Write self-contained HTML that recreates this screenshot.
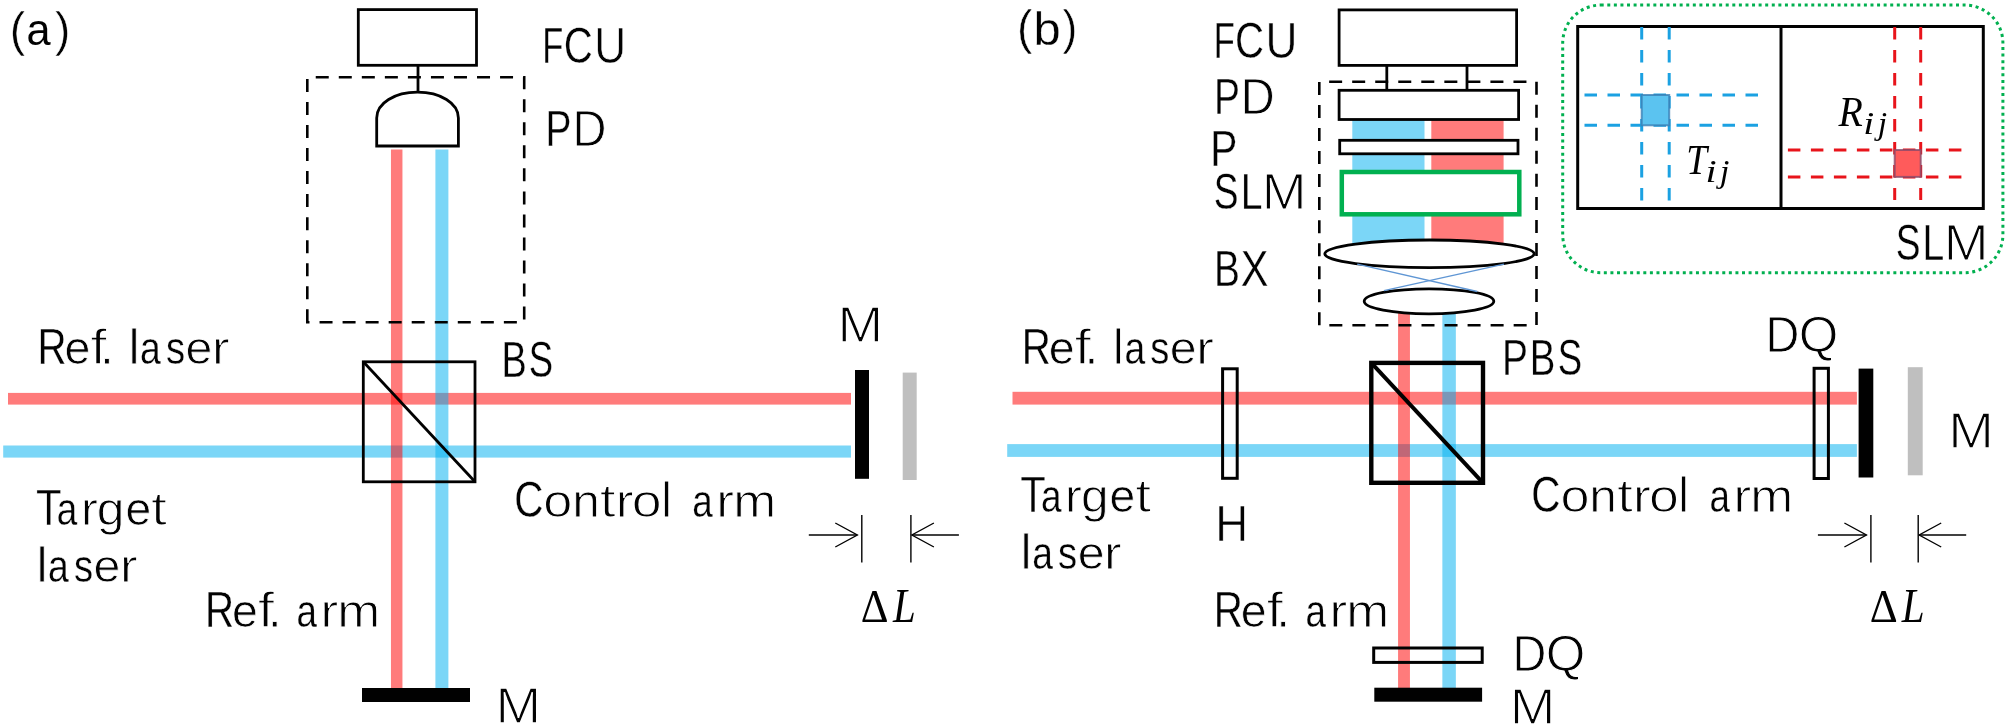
<!DOCTYPE html>
<html><head><meta charset="utf-8"><style>
html,body{margin:0;padding:0;background:#fff;}
svg{display:block;font-family:"Liberation Sans",sans-serif;}
</style></head><body>
<svg width="2008" height="727" viewBox="0 0 2008 727">
<rect width="2008" height="727" fill="#fff"/>
<g opacity="0.999"><text transform="translate(9.8,45.97) scale(0.4646,0.4815)" font-size="100" font-family="Liberation Sans" font-style="normal" stroke="#fff" stroke-width="1.0" >(</text><text transform="translate(26.47,44.87) scale(0.4327,0.4345)" font-size="100" font-family="Liberation Sans" font-style="normal" stroke="#fff" stroke-width="0" >a</text><text transform="translate(54.98,45.97) scale(0.46,0.4815)" font-size="100" font-family="Liberation Sans" font-style="normal" stroke="#fff" stroke-width="1.0" >)</text><rect x="8" y="392.9" width="843" height="11.7" fill="rgba(255,0,0,0.52)"/><rect x="3.2" y="445.5" width="847.8" height="12.1" fill="rgba(0,176,240,0.52)"/><rect x="390.95" y="149.5" width="11.5" height="538.5" fill="rgba(255,0,0,0.52)"/><rect x="435.4" y="149.5" width="13" height="538.5" fill="rgba(0,176,240,0.52)"/><rect x="358.3" y="9.6" width="118.19999999999999" height="55.699999999999996" fill="none" stroke="#000" stroke-width="2.8" /><line x1="418" y1="65.3" x2="418" y2="92.5" stroke="#000" stroke-width="2.8" /><path d="M307.3,322.3 V77.3 H524.2 V322.3 Z" fill="none" stroke="#000" stroke-width="2.6" stroke-dasharray="13 10.04"/><path d="M376.7,146 L376.7,118 C376.7,103 394.8,92.2 417.5,92.2 C440.2,92.2 458.4,103 458.4,118 L458.4,146 Z" fill="#fff" stroke="#000" stroke-width="2.8"/><rect x="363.3" y="361.8" width="111.69999999999999" height="120.0" fill="none" stroke="#000" stroke-width="2.8" /><line x1="363.3" y1="361.8" x2="475" y2="481.8" stroke="#000" stroke-width="2.8" /><rect x="855" y="370" width="14" height="108.8" fill="#000"/><rect x="902.7" y="372.6" width="14" height="107.4" fill="#bfbfbf"/><rect x="362" y="688" width="108" height="14" fill="#000"/><line x1="808.8" y1="535" x2="857.3" y2="535" stroke="#000" stroke-width="1.4" /><polyline points="835.3,523 857.3,535 835.3,547" fill="none" stroke="#000" stroke-width="1.4"/><line x1="861.8" y1="515" x2="861.8" y2="562.6" stroke="#000" stroke-width="1.4" /><line x1="910.9" y1="515" x2="910.9" y2="562.6" stroke="#000" stroke-width="1.4" /><line x1="911.9" y1="535" x2="958.9" y2="535" stroke="#000" stroke-width="1.4" /><polyline points="933.9,523 911.9,535 933.9,547" fill="none" stroke="#000" stroke-width="1.4"/><g font-size="50.0" stroke="#fff" stroke-width="0.9" opacity="0.999"><text transform="translate(542.33,62.50) scale(0.6894,1.0)" stroke-width="0.30">F</text><text transform="translate(563.64,62.50) scale(0.8034,1.0)" stroke-width="0.30">C</text><text transform="translate(594.13,62.50) scale(0.8847,1.0)" stroke-width="0.59">U</text><text transform="translate(545.59,146.40) scale(0.7791,1.0)" stroke-width="0.30">P</text><text transform="translate(572.47,146.40) scale(0.9402,1.0)" stroke-width="0.79">D</text><text transform="translate(37.53,363.60) scale(0.8048,1.0)" stroke-width="0.30">R</text><text transform="translate(64.57,363.60) scale(0.9293,0.915)" stroke-width="0.76">e</text><text transform="translate(90.29,363.60) scale(1.1876,1.0)" stroke-width="1.30">f</text><text transform="translate(100.10,363.60) scale(1.0000,1.0)" stroke-width="0.90">.</text><text transform="translate(128.43,363.60) scale(1.0000,1.0)" stroke-width="0.90">l</text><text transform="translate(140.11,363.60) scale(0.7446,0.915)" stroke-width="0.30">a</text><text transform="translate(165.92,363.60) scale(0.7627,0.915)" stroke-width="0.30">s</text><text transform="translate(185.53,363.60) scale(0.9653,0.915)" stroke-width="0.88">e</text><text transform="translate(211.69,363.60) scale(1.0770,0.915)" stroke-width="1.17">r</text><text transform="translate(501.48,376.70) scale(0.7563,1.0)" stroke-width="0.30">B</text><text transform="translate(528.73,376.70) scale(0.7302,1.0)" stroke-width="0.30">S</text><text transform="translate(837.60,342.20) scale(1.0971,1.0)" stroke-width="1.27">M</text><text transform="translate(36.00,524.80) scale(0.8356,1.0)" stroke-width="0.39">T</text><text transform="translate(56.72,524.80) scale(0.7367,0.915)" stroke-width="0.30">a</text><text transform="translate(80.63,524.80) scale(1.0314,0.915)" stroke-width="1.06">r</text><text transform="translate(96.83,524.80) scale(0.9946,0.915)" stroke-width="0.97">g</text><text transform="translate(125.40,524.80) scale(0.9242,0.915)" stroke-width="0.74">e</text><text transform="translate(151.08,524.80) scale(1.1510,0.935)" stroke-width="1.30">t</text><text transform="translate(36.43,582.20) scale(1.0000,1.0)" stroke-width="0.90">l</text><text transform="translate(48.11,582.20) scale(0.7446,0.915)" stroke-width="0.30">a</text><text transform="translate(73.92,582.20) scale(0.7627,0.915)" stroke-width="0.30">s</text><text transform="translate(93.53,582.20) scale(0.9653,0.915)" stroke-width="0.88">e</text><text transform="translate(119.69,582.20) scale(1.0770,0.915)" stroke-width="1.17">r</text><text transform="translate(514.22,516.70) scale(0.8098,1.0)" stroke-width="0.30">C</text><text transform="translate(543.32,516.70) scale(1.0449,0.915)" stroke-width="1.12">o</text><text transform="translate(572.17,516.70) scale(0.9939,0.915)" stroke-width="0.97">n</text><text transform="translate(599.78,516.70) scale(1.1510,0.935)" stroke-width="1.30">t</text><text transform="translate(615.53,516.70) scale(1.0884,0.915)" stroke-width="1.20">r</text><text transform="translate(631.80,516.70) scale(1.0756,0.915)" stroke-width="1.20">o</text><text transform="translate(660.98,516.70) scale(1.0000,1.0)" stroke-width="0.90">l</text><text transform="translate(692.28,516.70) scale(0.7347,0.915)" stroke-width="0.30">a</text><text transform="translate(716.03,516.70) scale(1.0884,0.915)" stroke-width="1.20">r</text><text transform="translate(733.22,516.70) scale(1.0310,0.915)" stroke-width="1.09">m</text><text transform="translate(205.08,626.90) scale(0.8048,1.0)" stroke-width="0.30">R</text><text transform="translate(232.12,626.90) scale(0.9293,0.915)" stroke-width="0.76">e</text><text transform="translate(257.84,626.90) scale(1.1876,1.0)" stroke-width="1.30">f</text><text transform="translate(267.65,626.90) scale(1.0000,1.0)" stroke-width="0.90">.</text><text transform="translate(296.38,626.90) scale(0.7347,0.915)" stroke-width="0.30">a</text><text transform="translate(320.13,626.90) scale(1.0884,0.915)" stroke-width="1.20">r</text><text transform="translate(337.32,626.90) scale(1.0310,0.915)" stroke-width="1.09">m</text><text transform="translate(495.40,722.50) scale(1.0971,1.0)" stroke-width="1.27">M</text><text transform="translate(1213.77,58.10) scale(0.6894,1.0)" stroke-width="0.30">F</text><text transform="translate(1235.08,58.10) scale(0.8034,1.0)" stroke-width="0.30">C</text><text transform="translate(1265.57,58.10) scale(0.8847,1.0)" stroke-width="0.59">U</text><text transform="translate(1213.89,113.50) scale(0.7791,1.0)" stroke-width="0.30">P</text><text transform="translate(1240.77,113.50) scale(0.9402,1.0)" stroke-width="0.79">D</text><text transform="translate(1210.34,165.80) scale(0.8133,1.0)" stroke-width="0.30">P</text><text transform="translate(1213.81,208.70) scale(0.7408,1.0)" stroke-width="0.30">S</text><text transform="translate(1240.68,208.70) scale(0.7818,1.0)" stroke-width="0.30">L</text><text transform="translate(1261.73,208.70) scale(1.0766,1.0)" stroke-width="1.22">M</text><text transform="translate(1213.96,286.10) scale(0.7769,1.0)" stroke-width="0.30">B</text><text transform="translate(1240.82,286.10) scale(0.8307,1.0)" stroke-width="0.36">X</text><text transform="translate(1021.83,363.60) scale(0.8048,1.0)" stroke-width="0.30">R</text><text transform="translate(1048.87,363.60) scale(0.9293,0.915)" stroke-width="0.76">e</text><text transform="translate(1074.59,363.60) scale(1.1876,1.0)" stroke-width="1.30">f</text><text transform="translate(1084.40,363.60) scale(1.0000,1.0)" stroke-width="0.90">.</text><text transform="translate(1112.73,363.60) scale(1.0000,1.0)" stroke-width="0.90">l</text><text transform="translate(1124.41,363.60) scale(0.7446,0.915)" stroke-width="0.30">a</text><text transform="translate(1150.22,363.60) scale(0.7627,0.915)" stroke-width="0.30">s</text><text transform="translate(1169.83,363.60) scale(0.9653,0.915)" stroke-width="0.88">e</text><text transform="translate(1195.99,363.60) scale(1.0770,0.915)" stroke-width="1.17">r</text><text transform="translate(1501.95,374.85) scale(0.7791,1.0)" stroke-width="0.30">P</text><text transform="translate(1529.84,374.85) scale(0.7677,1.0)" stroke-width="0.30">B</text><text transform="translate(1557.63,374.85) scale(0.7302,1.0)" stroke-width="0.30">S</text><text transform="translate(1765.60,352.10) scale(0.9363,1.0)" stroke-width="0.78">D</text><text transform="translate(1798.85,352.10) scale(1.0187,1.0)" stroke-width="1.05">Q</text><text transform="translate(1948.20,447.70) scale(1.0971,1.0)" stroke-width="1.27">M</text><text transform="translate(1020.20,511.70) scale(0.8356,1.0)" stroke-width="0.39">T</text><text transform="translate(1040.92,511.70) scale(0.7367,0.915)" stroke-width="0.30">a</text><text transform="translate(1064.83,511.70) scale(1.0314,0.915)" stroke-width="1.06">r</text><text transform="translate(1081.03,511.70) scale(0.9946,0.915)" stroke-width="0.97">g</text><text transform="translate(1109.60,511.70) scale(0.9242,0.915)" stroke-width="0.74">e</text><text transform="translate(1135.28,511.70) scale(1.1510,0.935)" stroke-width="1.30">t</text><text transform="translate(1020.53,569.20) scale(1.0000,1.0)" stroke-width="0.90">l</text><text transform="translate(1032.21,569.20) scale(0.7446,0.915)" stroke-width="0.30">a</text><text transform="translate(1058.02,569.20) scale(0.7627,0.915)" stroke-width="0.30">s</text><text transform="translate(1077.63,569.20) scale(0.9653,0.915)" stroke-width="0.88">e</text><text transform="translate(1103.79,569.20) scale(1.0770,0.915)" stroke-width="1.17">r</text><text transform="translate(1215.15,541.30) scale(0.9103,1.0)" stroke-width="0.69">H</text><text transform="translate(1531.32,511.70) scale(0.8098,1.0)" stroke-width="0.30">C</text><text transform="translate(1560.42,511.70) scale(1.0449,0.915)" stroke-width="1.12">o</text><text transform="translate(1589.27,511.70) scale(0.9939,0.915)" stroke-width="0.97">n</text><text transform="translate(1616.88,511.70) scale(1.1510,0.935)" stroke-width="1.30">t</text><text transform="translate(1632.63,511.70) scale(1.0884,0.915)" stroke-width="1.20">r</text><text transform="translate(1648.90,511.70) scale(1.0756,0.915)" stroke-width="1.20">o</text><text transform="translate(1678.08,511.70) scale(1.0000,1.0)" stroke-width="0.90">l</text><text transform="translate(1709.38,511.70) scale(0.7347,0.915)" stroke-width="0.30">a</text><text transform="translate(1733.13,511.70) scale(1.0884,0.915)" stroke-width="1.20">r</text><text transform="translate(1750.32,511.70) scale(1.0310,0.915)" stroke-width="1.09">m</text><text transform="translate(1213.68,626.80) scale(0.8048,1.0)" stroke-width="0.30">R</text><text transform="translate(1240.72,626.80) scale(0.9293,0.915)" stroke-width="0.76">e</text><text transform="translate(1266.44,626.80) scale(1.1876,1.0)" stroke-width="1.30">f</text><text transform="translate(1276.25,626.80) scale(1.0000,1.0)" stroke-width="0.90">.</text><text transform="translate(1305.38,626.80) scale(0.7347,0.915)" stroke-width="0.30">a</text><text transform="translate(1329.13,626.80) scale(1.0884,0.915)" stroke-width="1.20">r</text><text transform="translate(1346.32,626.80) scale(1.0310,0.915)" stroke-width="1.09">m</text><text transform="translate(1512.50,671.30) scale(0.9363,1.0)" stroke-width="0.78">D</text><text transform="translate(1545.75,671.30) scale(1.0187,1.0)" stroke-width="1.05">Q</text><text transform="translate(1509.70,723.60) scale(1.0971,1.0)" stroke-width="1.27">M</text><text transform="translate(1895.71,259.80) scale(0.7408,1.0)" stroke-width="0.30">S</text><text transform="translate(1922.58,259.80) scale(0.7818,1.0)" stroke-width="0.30">L</text><text transform="translate(1943.63,259.80) scale(1.0766,1.0)" stroke-width="1.22">M</text></g><text transform="translate(860.87,621.6) scale(0.4316,0.4742)" font-size="100" font-family="Liberation Serif" font-style="normal" stroke="#fff" stroke-width="0" >&#916;</text><text transform="translate(892.91,621.6) scale(0.4096,0.4815)" font-size="100" font-family="Liberation Serif" font-style="italic" stroke="#fff" stroke-width="0" >L</text><text transform="translate(1016.96,44.08) scale(0.4625,0.4761)" font-size="100" font-family="Liberation Sans" font-style="normal" stroke="#fff" stroke-width="1.0" >(</text><text transform="translate(1033.48,44.5) scale(0.4886,0.4712)" font-size="100" font-family="Liberation Sans" font-style="normal" stroke="#fff" stroke-width="0.6" >b</text><text transform="translate(1062.41,44.08) scale(0.444,0.4761)" font-size="100" font-family="Liberation Sans" font-style="normal" stroke="#fff" stroke-width="1.0" >)</text><rect x="1012.5" y="391.8" width="844.4000000000001" height="12.8" fill="rgba(255,0,0,0.52)"/><rect x="1007.2" y="444.1" width="849.7" height="12.8" fill="rgba(0,176,240,0.52)"/><rect x="1398.05" y="300" width="11.9" height="388" fill="rgba(255,0,0,0.52)"/><rect x="1442.35" y="300" width="13.5" height="388" fill="rgba(0,176,240,0.52)"/><rect x="1352.3" y="119" width="72.2" height="135" fill="rgba(0,176,240,0.52)"/><rect x="1431.3" y="119" width="72.3" height="135" fill="rgba(255,0,0,0.52)"/><rect x="1339.1" y="9.9" width="177.5" height="55.50000000000001" fill="none" stroke="#000" stroke-width="2.8" /><line x1="1386.8" y1="65.4" x2="1386.8" y2="90.3" stroke="#000" stroke-width="2.8" /><line x1="1467" y1="65.4" x2="1467" y2="90.3" stroke="#000" stroke-width="2.8" /><path d="M1319.3,325.3 V81.7 H1536.5 V325.3 Z" fill="none" stroke="#000" stroke-width="2.6" stroke-dasharray="13 10.04"/><rect x="1339.1" y="90.3" width="179.5" height="29.200000000000003" fill="#fff" stroke="#000" stroke-width="2.8" /><rect x="1339.7" y="140.3" width="178.29999999999995" height="13.5" fill="#fff" stroke="#000" stroke-width="2.8" /><rect x="1341.8" y="172" width="177.5" height="42.30000000000001" fill="#fff" stroke="#00b050" stroke-width="4.5" /><ellipse cx="1429.5" cy="253.8" rx="104.7" ry="13.8" fill="#fff" stroke="#000" stroke-width="2.8"/><ellipse cx="1429" cy="301.3" rx="64.8" ry="12.5" fill="#fff" stroke="#000" stroke-width="2.8"/><line x1="1357.2" y1="264.1" x2="1477.2" y2="291.5" stroke="#5f96d4" stroke-width="1.4" /><line x1="1504" y1="264.1" x2="1384" y2="290.6" stroke="#5f96d4" stroke-width="1.4" /><rect x="1222.6" y="368.8" width="14.600000000000136" height="109.5" fill="none" stroke="#000" stroke-width="3" /><rect x="1371.3" y="362.9" width="111.70000000000005" height="119.90000000000003" fill="none" stroke="#000" stroke-width="4.4" /><line x1="1371.3" y1="362.9" x2="1483" y2="482.8" stroke="#000" stroke-width="4.0" /><rect x="1814.1" y="368.3" width="14.300000000000182" height="110.19999999999999" fill="none" stroke="#000" stroke-width="3" /><rect x="1858.6" y="368.6" width="14.7" height="108.9" fill="#000"/><rect x="1907.8" y="367.2" width="14.9" height="108.1" fill="#bfbfbf"/><rect x="1373.7" y="648" width="108.5" height="14.399999999999977" fill="none" stroke="#000" stroke-width="3" /><rect x="1374.3" y="687.7" width="107.8" height="14" fill="#000"/><line x1="1817.9" y1="535" x2="1866.4" y2="535" stroke="#000" stroke-width="1.4" /><polyline points="1844.4,523 1866.4,535 1844.4,547" fill="none" stroke="#000" stroke-width="1.4"/><line x1="1870.9" y1="515" x2="1870.9" y2="562.6" stroke="#000" stroke-width="1.4" /><line x1="1918.2" y1="515" x2="1918.2" y2="562.6" stroke="#000" stroke-width="1.4" /><line x1="1919.2" y1="535" x2="1966.2" y2="535" stroke="#000" stroke-width="1.4" /><polyline points="1941.2,523 1919.2,535 1941.2,547" fill="none" stroke="#000" stroke-width="1.4"/><text transform="translate(1869.76,621.6) scale(0.4351,0.4742)" font-size="100" font-family="Liberation Serif" font-style="normal" stroke="#fff" stroke-width="0" >&#916;</text><text transform="translate(1901.81,621.6) scale(0.4115,0.4815)" font-size="100" font-family="Liberation Serif" font-style="italic" stroke="#fff" stroke-width="0" >L</text><rect x="1562.7" y="5.1" width="440.2" height="267.6" rx="38" ry="38" fill="none" stroke="#00b050" stroke-width="3" stroke-dasharray="3 3.58"/><rect x="1577.7" y="26.5" width="405.5999999999999" height="182.0" fill="none" stroke="#000" stroke-width="3" /><line x1="1781" y1="26.5" x2="1781" y2="208.5" stroke="#000" stroke-width="3" /><line x1="1584.5" y1="95" x2="1759.8" y2="95" stroke="#1ba1e2" stroke-width="3" stroke-dasharray="12.5 10.5"/><line x1="1584.5" y1="125.3" x2="1759.8" y2="125.3" stroke="#1ba1e2" stroke-width="3" stroke-dasharray="12.5 10.5"/><line x1="1641.7" y1="27" x2="1641.7" y2="200.4" stroke="#1ba1e2" stroke-width="3" stroke-dasharray="12.5 10.5"/><line x1="1669.2" y1="27" x2="1669.2" y2="200.4" stroke="#1ba1e2" stroke-width="3" stroke-dasharray="12.5 10.5"/><rect x="1641.7" y="95" width="27.5" height="30.3" fill="#5bc3f0" stroke="#3a7fb5" stroke-width="2" stroke-opacity="0.8"/><line x1="1787.9" y1="150" x2="1962.8" y2="150" stroke="#e8141b" stroke-width="3" stroke-dasharray="12.5 10.5"/><line x1="1787.9" y1="176.9" x2="1962.8" y2="176.9" stroke="#e8141b" stroke-width="3" stroke-dasharray="12.5 10.5"/><line x1="1894.7" y1="27" x2="1894.7" y2="200" stroke="#e8141b" stroke-width="3" stroke-dasharray="12.5 10.5"/><line x1="1920.7" y1="27" x2="1920.7" y2="200" stroke="#e8141b" stroke-width="3" stroke-dasharray="12.5 10.5"/><rect x="1894.7" y="150" width="26" height="26.9" fill="#ff5b5b" stroke="#8a4a6a" stroke-width="2" stroke-opacity="0.8"/><text transform="translate(1686.28,173.7) scale(0.3741,0.42)" font-size="100" font-family="Liberation Serif" font-style="italic" stroke="#fff" stroke-width="0" >T</text><text transform="translate(1705.6,181.69) scale(0.4,0.3091)" font-size="100" font-family="Liberation Serif" font-style="italic" stroke="#fff" stroke-width="0" >i</text><text transform="translate(1719.72,181.76) scale(0.3472,0.3163)" font-size="100" font-family="Liberation Serif" font-style="italic" stroke="#fff" stroke-width="0" >j</text><text transform="translate(1838.4,125.98) scale(0.3983,0.4152)" font-size="100" font-family="Liberation Serif" font-style="italic" stroke="#fff" stroke-width="0" >R</text><text transform="translate(1863.33,134.09) scale(0.3947,0.3106)" font-size="100" font-family="Liberation Serif" font-style="italic" stroke="#fff" stroke-width="0" >i</text><text transform="translate(1877.7,134.13) scale(0.3361,0.3174)" font-size="100" font-family="Liberation Serif" font-style="italic" stroke="#fff" stroke-width="0" >j</text></g>
</svg></body></html>
